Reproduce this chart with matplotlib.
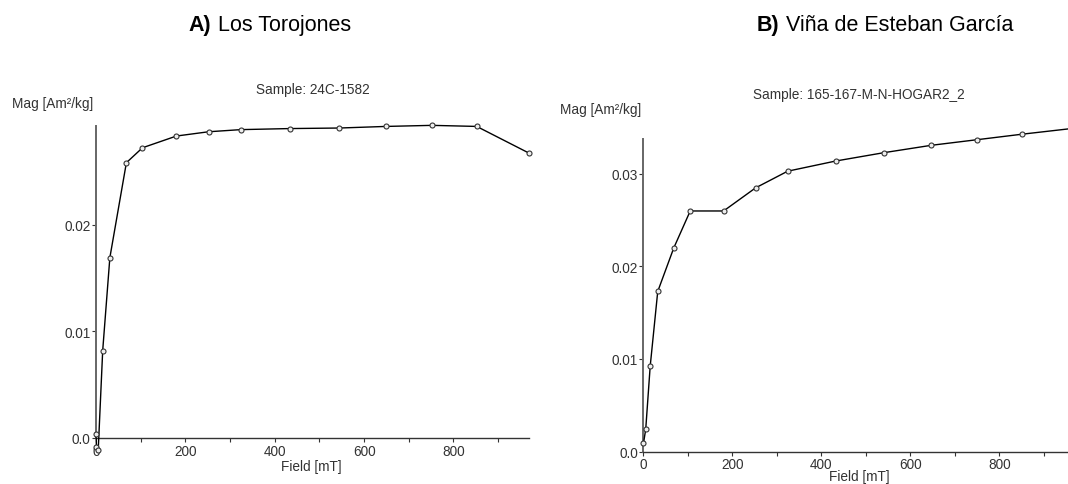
import matplotlib.pyplot as plt
from matplotlib.ticker import MultipleLocator

plt.rcParams['font.family'] = ['Liberation Sans', 'DejaVu Sans']

# Panel A - Los Torojones, sample 24C-1582
field_a = [0, 1, 5, 15, 31, 68, 104, 180, 252, 324, 434, 544, 649, 752, 852, 969]
mag_a = [0.0004, -0.0008, -0.0011, 0.0082, 0.0169, 0.0258, 0.0272, 0.0283,
         0.0287, 0.0289, 0.0290, 0.02905, 0.0292, 0.0293, 0.0292, 0.0267]

# Panel B - Viña de Esteban García, sample 165-167-M-N-HOGAR2_2
field_b = [0, 5, 15, 32, 68, 105, 180, 252, 324, 432, 540, 647, 749, 851, 960]
mag_b = [0.0009, 0.0024, 0.0092, 0.0173, 0.0220, 0.0260, 0.0260, 0.0285,
         0.0303, 0.0314, 0.0323, 0.0331, 0.0337, 0.0343, 0.0349]

W, H = 1068, 485
fig = plt.figure(figsize=(W / 100, H / 100), dpi=100)

label_size = 9.8
text_col = '#333333'


def px(x, y):
    return x / W, 1 - y / H


def make_axes(left, right, top, bottom, xmax, ymax, yticks, ylabels):
    ax = fig.add_axes([left / W, 1 - bottom / H, (right - left) / W, (bottom - top) / H])
    ax.set_xlim(0, xmax)
    ax.set_ylim(0, ymax)
    for s in ['top', 'right']:
        ax.spines[s].set_visible(False)
    ax.spines['left'].set_color('#666666')
    ax.spines['left'].set_linewidth(1.4)
    ax.spines['bottom'].set_color('#333333')
    ax.spines['bottom'].set_linewidth(1.0)
    ax.set_xticks([0, 200, 400, 600, 800])
    ax.xaxis.set_minor_locator(MultipleLocator(100))
    ax.set_yticks(yticks)
    ax.set_yticklabels(ylabels)
    ax.tick_params(axis='both', which='both', length=3, width=0.8, color='#333333',
                   labelsize=label_size, labelcolor=text_col, pad=1)
    return ax


def draw(ax, x, y):
    ax.plot(x, y, color='black', lw=1.0, marker='o', ms=3.6, mfc='#eeeeee',
            mec='#333333', mew=0.8, clip_on=False, zorder=3)


ax_a = make_axes(96, 529, 127, 439, 969, 0.02924, [0, 0.01, 0.02], ['0.0', '0.01', '0.02'])
draw(ax_a, field_a, mag_a)

ax_b = make_axes(643.5, 1068, 140, 452.5, 954, 0.03378, [0, 0.01, 0.02, 0.03],
                 ['0.0', '0.01', '0.02', '0.03'])
draw(ax_b, field_b, mag_b)

# titles: bold letter + regular site name, sharing one baseline
fig.text(*px(211, 31), 'A)', ha='right', va='baseline', fontsize=15.5, fontweight='bold')
fig.text(*px(218, 31), 'Los Torojones', ha='left', va='baseline', fontsize=15.5)
fig.text(*px(779, 31), 'B)', ha='right', va='baseline', fontsize=15.5, fontweight='bold')
fig.text(*px(786, 31), 'Viña de Esteban García', ha='left', va='baseline', fontsize=15.5)

fig.text(*px(313, 90), 'Sample: 24C-1582', ha='center', va='center', fontsize=label_size,
         color=text_col)
fig.text(*px(859, 95), 'Sample: 165-167-M-N-HOGAR2_2', ha='center', va='center',
         fontsize=label_size, color=text_col)

fig.text(*px(53, 104), 'Mag [Am²/kg]', ha='center', va='center', fontsize=label_size,
         color=text_col)
fig.text(*px(601, 110), 'Mag [Am²/kg]', ha='center', va='center', fontsize=label_size,
         color=text_col)

fig.text(*px(311, 467), 'Field [mT]', ha='center', va='center', fontsize=label_size,
         color=text_col)
fig.text(*px(859, 477), 'Field [mT]', ha='center', va='center', fontsize=label_size,
         color=text_col)

fig.savefig('out.png', dpi=100)
